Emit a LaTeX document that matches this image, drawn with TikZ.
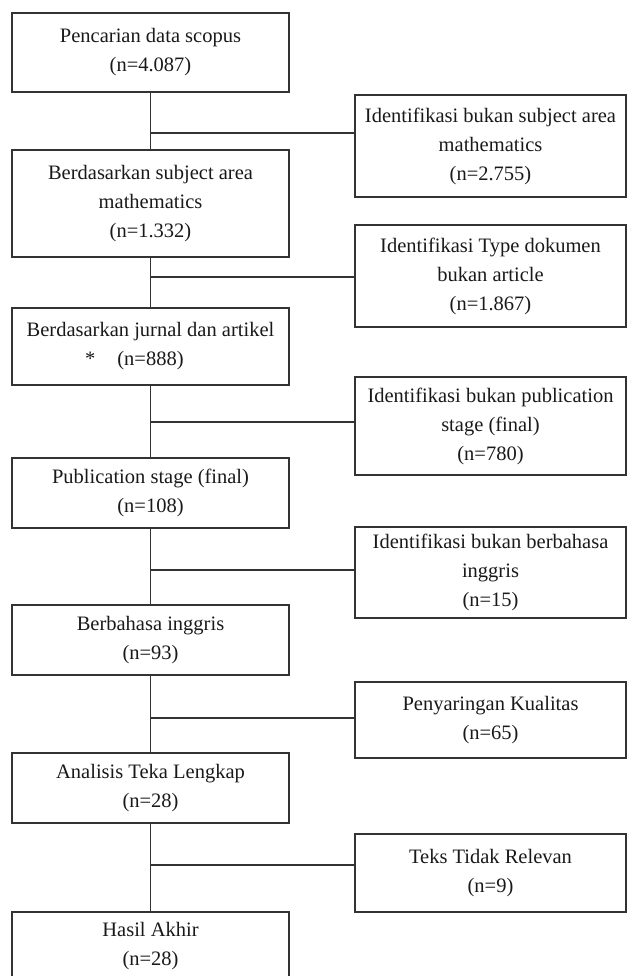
\documentclass[tikz,border=0pt]{standalone}
\usepackage{fontspec}
\setmainfont{Liberation Serif}
\usetikzlibrary{positioning}

\begin{document}
\begin{tikzpicture}[x=1pt, y=-1pt,
  % kotak alur utama di kiri
  utama/.style={rectangle, draw=black!80, line width=1.4pt, minimum width=277pt, inner sep=2pt, align=center, font=\fontsize{20.5}{29}\selectfont, text=black!90},
  % kotak data yang dikeluarkan di kanan
  keluar/.style={utama, minimum width=271pt},
  % garis penghubung
  garis/.style={draw=black!80, line width=1.4pt}
]
\useasboundingbox (0,0) rectangle (627,976);
\clip (0,0) rectangle (627,976);

% kotak utama, dari atas ke bawah
\node[utama, minimum height=79pt]  (P1) at (150.5, 52.5) {Pencarian data scopus\\(n=4.087)};
\node[utama, minimum height=107pt] (P2) at (150.5,203.5) {Berdasarkan subject area\\mathematics\\(n=1.332)};
\node[utama, minimum height=77pt]  (P3) at (150.5,346.5) {Berdasarkan jurnal dan artikel\\\llap{*\hspace{22pt}}(n=888)};
\node[utama, minimum height=70pt]  (P4) at (150.5,493)   {Publication stage (final)\\(n=108)};
\node[utama, minimum height=70pt]  (P5) at (150.5,640)   {Berbahasa inggris\\(n=93)};
\node[utama, minimum height=70pt]  (P6) at (150.5,788)   {Analisis Teka Lengkap\\(n=28)};
\node[utama, minimum height=68pt]  (P7) at (150.5,946)   {Hasil Akhir\\(n=28)};

% kotak eksklusi
\node[keluar, minimum height=102pt] (E1) at (490.5,146)   {Identifikasi bukan subject area\\mathematics\\(n=2.755)};
\node[keluar, minimum height=102pt] (E2) at (490.5,276)   {Identifikasi Type dokumen\\bukan article\\(n=1.867)};
\node[keluar, minimum height=98pt]  (E3) at (490.5,426)   {Identifikasi bukan publication\\stage (final)\\(n=780)};
\node[keluar, minimum height=91pt]  (E4) at (490.5,572.5) {Identifikasi bukan berbahasa\\inggris\\(n=15)};
\node[keluar, minimum height=76pt]  (E5) at (490.5,720)   {Penyaringan Kualitas\\(n=65)};
\node[keluar, minimum height=78pt]  (E6) at (490.5,873)   {Teks Tidak Relevan\\(n=9)};

% titik cabang pada garis tegak
\coordinate (J1) at (150.5,133);
\coordinate (J2) at (150.5,277);
\coordinate (J3) at (150.5,422);
\coordinate (J4) at (150.5,570);
\coordinate (J5) at (150.5,718);
\coordinate (J6) at (150.5,865);

% garis tegak antar kotak utama
\draw[garis] (P1) -- (P2);
\draw[garis] (P2) -- (P3);
\draw[garis] (P3) -- (P4);
\draw[garis] (P4) -- (P5);
\draw[garis] (P5) -- (P6);
\draw[garis] (P6) -- (P7);

% cabang ke kotak eksklusi
\draw[garis] (J1) -- (J1 -| E1.west);
\draw[garis] (J2) -- (J2 -| E2.west);
\draw[garis] (J3) -- (J3 -| E3.west);
\draw[garis] (J4) -- (J4 -| E4.west);
\draw[garis] (J5) -- (J5 -| E5.west);
\draw[garis] (J6) -- (J6 -| E6.west);

\end{tikzpicture}
\end{document}
